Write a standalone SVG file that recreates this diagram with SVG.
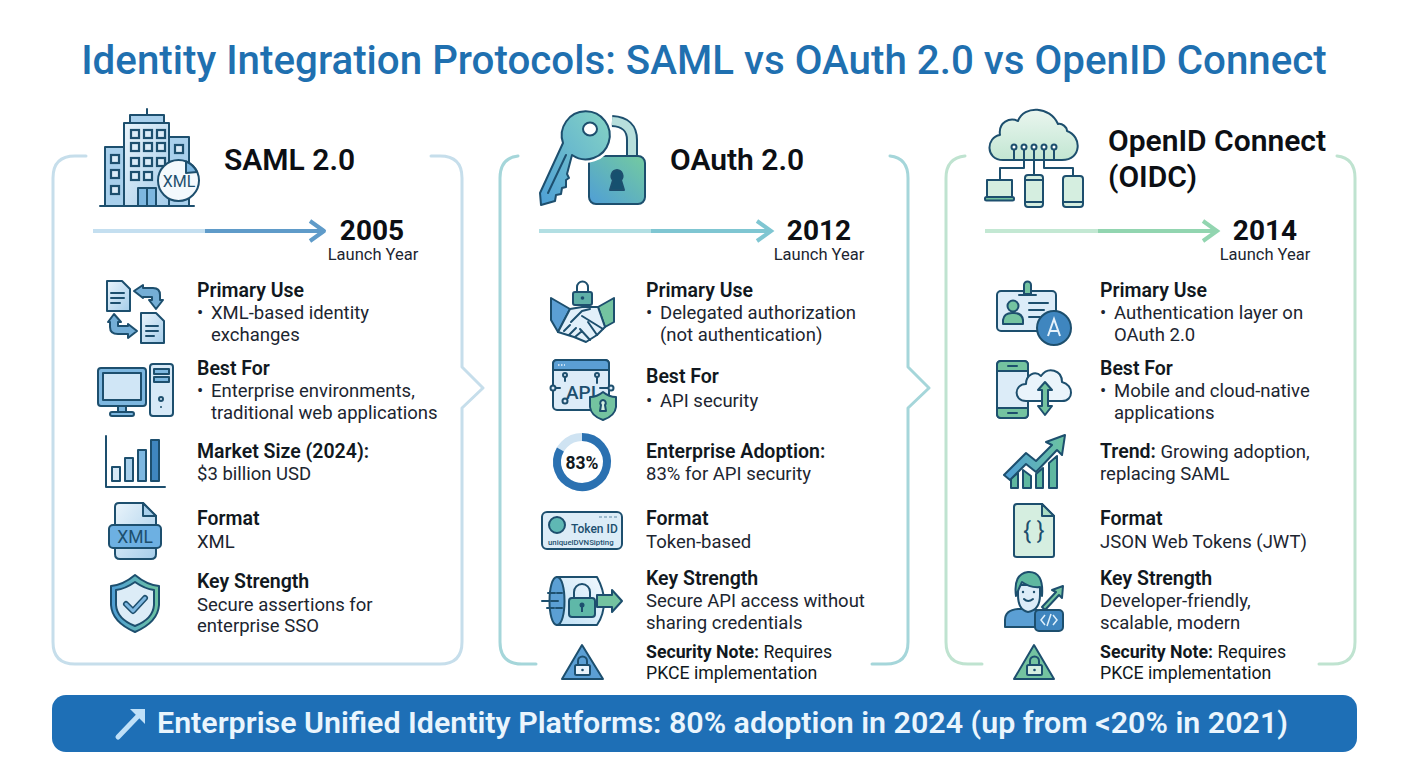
<svg xmlns="http://www.w3.org/2000/svg" width="1408" height="768" viewBox="0 0 1408 768">
<style>
text{font-family:Roboto,"Liberation Sans",sans-serif;fill:#111820}
.title{font-size:40.3px;font-weight:500;fill:#1f70b0}
.h{font-size:30px;font-weight:600;fill:#0c0f14}
.y{font-size:28px;font-weight:700;fill:#0c0f14;text-anchor:middle}
.ly{font-size:16.5px;fill:#1c2530;text-anchor:middle}
.b{font-size:19.5px;font-weight:600}
.t{font-size:18.5px;fill:#1c2530}
.ns{font-size:17.7px}
.nb{font-size:17.7px;font-weight:700}
.p1,.p2,.p3{fill:none;stroke-width:3;stroke-linecap:round;stroke-linejoin:round}
.p1{stroke:#c6deeb}.p2{stroke:#a5d6da}.p3{stroke:#bfe3d0}
.i{stroke:#1d4f6e;stroke-width:2;stroke-linejoin:round;stroke-linecap:round}
.n{fill:none}
.tl{fill:none;stroke-width:4}
</style>
<defs>
<linearGradient id="gB" x1="0" y1="0" x2="1" y2="1"><stop offset="0" stop-color="#eaf4fb"/><stop offset="1" stop-color="#a5cdea"/></linearGradient>
<linearGradient id="gT" x1="1" y1="0" x2="0" y2="1"><stop offset="0" stop-color="#86d4c4"/><stop offset="1" stop-color="#4d9fd6"/></linearGradient>
<linearGradient id="gL" x1="0" y1="1" x2="1" y2="0"><stop offset="0" stop-color="#4f9ed6"/><stop offset="1" stop-color="#74cba0"/></linearGradient>
<linearGradient id="gG" x1="0" y1="0" x2="0" y2="1"><stop offset="0" stop-color="#eaf6ef"/><stop offset="1" stop-color="#c2e6d2"/></linearGradient>
<linearGradient id="gBG" x1="0" y1="0" x2="1" y2="0"><stop offset="0" stop-color="#4f9ed6"/><stop offset="1" stop-color="#6cc3a0"/></linearGradient>
<linearGradient id="gS" x1="0" y1="1" x2="1" y2="0"><stop offset="0" stop-color="#bfe0f5"/><stop offset="1" stop-color="#f2f9fe"/></linearGradient>
<g id="winr"><rect width="8" height="8" fill="#dcecf8" stroke="#1d4f6e" stroke-width="2.200"/></g>
</defs>

<g id="page-title"><text class="title" x="704" y="74" text-anchor="middle">Identity Integration Protocols: SAML vs OAuth 2.0 vs OpenID Connect</text></g>

<g id="connectors">
<path class="p1" d="M86 156H75Q53 156 53 178V642Q53 664 75 664H440Q462 664 462 642V408L483 388L462 367V178Q462 156 440 156H431"/>
<path class="p2" d="M518 156Q500 158 500 178V642Q500 664 522 664H536M872 664H886Q908 664 908 642V408L929 388L908 367V178Q908 158 890 156"/>
<path class="p3" d="M965 156Q946 158 946 178V642Q946 664 968 664H982M1319 664H1333Q1355 664 1355 642V178Q1355 158 1337 156"/>
<path class="tl" stroke="#c4dff0" d="M93 231H206"/><path class="tl" stroke="#5f9bc9" d="M205 231H322"/><path fill="none" stroke="#5f9bc9" stroke-width="4" stroke-linejoin="round" d="M310 221L324 231L310 241"/>
<path class="tl" stroke="#b2dfe3" d="M539 231H651"/><path class="tl" stroke="#7fc6d2" d="M651 231H768"/><path fill="none" stroke="#7fc6d2" stroke-width="4" d="M757 221L771 231L757 241"/>
<path class="tl" stroke="#c3e8d3" d="M985 231H1098"/><path class="tl" stroke="#92d5b0" d="M1098 231H1214"/><path fill="none" stroke="#92d5b0" stroke-width="4" d="M1203 221L1217 231L1203 241"/>
</g>

<g id="saml">
<g id="saml-header">
<path class="i" d="M147 115V109" fill="none"/>
<rect class="i" x="130" y="115" width="34" height="8" fill="#a9d0ec"/>
<rect class="i" x="105" y="147" width="19" height="59" fill="#a9d0ec"/>
<rect class="i" x="169" y="137" width="20" height="69" fill="#a9d0ec"/>
<rect class="i" x="124" y="123" width="45" height="83" fill="url(#gB)"/>
<use href="#winr" x="131" y="130"/><use href="#winr" x="144" y="130"/><use href="#winr" x="157" y="130"/>
<use href="#winr" x="131" y="143"/><use href="#winr" x="144" y="143"/><use href="#winr" x="157" y="143"/>
<use href="#winr" x="131" y="158"/><use href="#winr" x="144" y="158"/><use href="#winr" x="157" y="158"/>
<use href="#winr" x="131" y="172"/><use href="#winr" x="144" y="172"/>
<use href="#winr" x="111" y="155"/><use href="#winr" x="111" y="170"/><use href="#winr" x="111" y="186"/><use href="#winr" x="175" y="145"/>
<path class="i" d="M138 206V188H156V206M147 188V206" fill="#7db7e0"/>
<path class="i" d="M100 206H194" fill="none"/>
<circle class="i" cx="178.500" cy="180.500" r="20.500" fill="#f3f9fd"/>
<path class="i" d="M186 161.500A20.500 20.500 0 0 1 197 172L186 173Z" fill="#7db7e0" stroke-width="1.500"/>
<text x="179" y="187" font-size="16" text-anchor="middle" style="fill:#1d4f6e">XML</text>
<text class="h" x="224" y="170">SAML 2.0</text>
</g>
<g id="saml-year"><text class="y" x="372" y="240">2005</text><text class="ly" x="373" y="260">Launch Year</text></g>
<g id="saml-use">
<path class="i" d="M107 281H122L130 289V311H107Z" fill="url(#gB)" stroke-width="1.600"/><path class="i n" stroke-width="1.600" d="M111 293H124M111 298H124M111 303H120"/>
<path class="i" d="M141 313H156L164 321V343H141Z" fill="url(#gB)" stroke-width="1.600"/><path class="i n" stroke-width="1.600" d="M146 326H158M146 331H158M146 336H154"/>
<path class="i" d="M134 291L143 285V288H153Q160 288 160 295V300H163L156 309L149 300H152V297H143V298Z" fill="#74aed6" stroke-width="1.500"/>
<path class="i" d="M137 331L128 338V334H118Q110 334 110 327V322H108L114 314L121 322H118V326H128V324Z" fill="#74aed6" stroke-width="1.500"/>
<text class="b" x="197" y="297">Primary Use</text><text class="t" x="197" y="319">•</text><text class="t" x="211" y="319">XML-based identity</text><text class="t" x="211" y="341">exchanges</text>
</g>
<g id="saml-best">
<rect class="i" x="98" y="368" width="48" height="38" rx="3" fill="#7db7e0"/><rect class="i" x="103" y="373" width="38" height="27" fill="#d0e6f6" stroke-width="1.500"/>
<path class="i" d="M118 406V412H126V406Z" fill="#7db7e0"/><rect class="i" x="110" y="412" width="24" height="4" rx="2" fill="#7db7e0"/>
<rect class="i" x="150" y="364" width="23" height="52" rx="3" fill="#d7e9f7"/><rect class="i" x="154" y="369" width="15" height="5" fill="#7db7e0" stroke-width="1.300"/><rect class="i" x="154" y="377" width="15" height="5" fill="#7db7e0" stroke-width="1.300"/><circle class="i" cx="161" cy="399" r="2" fill="none" stroke-width="1.300"/><circle cx="161" cy="407" r="1" fill="#1d4f6e"/>
<text class="b" x="197" y="375">Best For</text><text class="t" x="197" y="397">•</text><text class="t" x="211" y="397">Enterprise environments,</text><text class="t" x="211" y="419">traditional web applications</text>
</g>
<g id="saml-market">
<path class="i n" stroke-width="1.500" d="M106 436V487H165"/>
<rect class="i" x="112" y="467" width="8" height="14" fill="#d5e8f6" stroke-width="1.500"/><rect class="i" x="125" y="458" width="8" height="23" fill="#a9d0ec" stroke-width="1.500"/><rect class="i" x="138" y="450" width="8" height="31" fill="#7db7e0" stroke-width="1.500"/><rect class="i" x="151" y="440" width="8" height="41" fill="#3f86bf" stroke-width="1.500"/>
<text class="b" x="197" y="458">Market Size (2024):</text><text class="t" x="197" y="480">$3 billion USD</text>
</g>
<g id="saml-format">
<path class="i" d="M119 503H143L156 516V554Q156 559 151 559H120Q115 559 115 554V507Q115 503 119 503Z" fill="url(#gB)"/><path class="i" d="M143 503V516H156Z" fill="#a9d0ec"/>
<rect class="i" x="109" y="525" width="52" height="23" rx="4" fill="#6db0e2"/><text x="135" y="543" font-size="17.500" text-anchor="middle" style="fill:#1d4f6e">XML</text>
<text class="b" x="197" y="525">Format</text><text class="t" x="197" y="548">XML</text>
</g>
<g id="saml-strength">
<path class="i" d="M135 575Q147 585 159 586V605Q158 622 135 632Q112 622 111 605V586Q123 585 135 575Z" fill="url(#gBG)"/>
<path class="i" d="M135 582Q145 589 154 590V605Q153 619 135 626Q117 619 116 605V590Q125 589 135 582Z" fill="#dcecf7" stroke-width="1.500"/>
<path d="M126 604L133 611L145 598" fill="none" stroke="#1d4f6e" stroke-width="6" stroke-linecap="round" stroke-linejoin="round"/><path d="M126 604L133 611L145 598" fill="none" stroke="#7db7e0" stroke-width="3" stroke-linecap="round" stroke-linejoin="round"/>
<text class="b" x="197" y="588">Key Strength</text><text class="t" x="197" y="611">Secure assertions for</text><text class="t" x="197" y="632">enterprise SSO</text>
</g>
</g>

<g id="oauth">
<g id="oauth-header">
<path d="M632 157V140Q632 122 612 121" fill="none" stroke="#1d4f6e" stroke-width="12"/>
<path d="M632 157V140Q632 122 612 121" fill="none" stroke="#b7dfdc" stroke-width="8"/>
<rect class="i" x="589" y="156" width="56" height="48" rx="7" fill="url(#gL)"/>
<path class="i" d="M617 170A6 6 0 0 1 621 180L624 190H610L613 180A6 6 0 0 1 617 170Z" fill="#16506f"/>
<path d="M563 143L540 193L541 205L555 201L556 195L561 194L562 188L566 187L566 180L569 178L567 174L572 155A24 24 0 1 0 563 143Z" fill="none" stroke="#fff" stroke-width="7"/>
<path class="i" d="M563 143L540 193L541 205L555 201L556 195L561 194L562 188L566 187L566 180L569 178L567 174L572 155A24 24 0 1 0 563 143Z" fill="url(#gT)"/>
<path class="i n" stroke-width="1.500" d="M548 193L566 155"/>
<ellipse class="i" cx="590" cy="129" rx="7" ry="6.500" fill="#fff"/>
<text class="h" x="670" y="170">OAuth 2.0</text>
</g>
<g id="oauth-year"><text class="y" x="819" y="240">2012</text><text class="ly" x="819" y="260">Launch Year</text></g>
<g id="oauth-use">
<rect class="i" x="573" y="292" width="19" height="13" rx="2" fill="#5fb0a8" stroke-width="1.600"/><path class="i n" stroke-width="1.600" d="M577 292V287A5.500 5.500 0 0 1 588 287V292"/><circle cx="582.500" cy="298" r="1.800" fill="#1d4f6e"/>
<path class="i" d="M551 298L570 309L558 332L551 320Z" fill="#5b9fd4" stroke-width="1.600"/>
<path class="i" d="M614 298L598 307L605 327L614 322Z" fill="#74c3a0" stroke-width="1.600"/>
<path class="i" d="M570 309L582 307L598 307L605 327L597 335L586 342L574 337L558 332Z" fill="#e2f0fa" stroke-width="1.600"/>
<path class="i n" stroke-width="1.600" d="M571 322L582 311L590 309M582 316L603 329M588 322L597 335M580 329L590 340M564 331L570 325M569 335L576 328M575 337L582 331"/>
<text class="b" x="646" y="297">Primary Use</text><text class="t" x="646" y="319">•</text><text class="t" x="660" y="319">Delegated authorization</text><text class="t" x="660" y="341">(not authentication)</text>
</g>
<g id="oauth-best">
<rect class="i" x="553" y="360" width="56" height="50" rx="4" fill="#dcecf8"/><path class="i" d="M553 370V364Q553 360 557 360H605Q609 360 609 364V370Z" fill="#5b9fd4"/>
<path d="M558 365H565" stroke="#eaf4fb" stroke-width="1.500" stroke-dasharray="1.500 1.500" fill="none"/>
<path class="i n" stroke-width="1.500" d="M565 376V381M597 376V383M552 388H560M600 388H612"/><circle class="i" cx="565" cy="375" r="2" fill="#dcecf8" stroke-width="1.500"/><circle class="i" cx="597" cy="375" r="2" fill="#dcecf8" stroke-width="1.500"/><circle class="i" cx="553" cy="388" r="2.500" fill="#dcecf8" stroke-width="1.500"/><circle class="i" cx="611" cy="388" r="2.500" fill="#dcecf8" stroke-width="1.500"/><circle class="i" cx="565" cy="401" r="2.500" fill="#dcecf8" stroke-width="1.500"/>
<text x="581" y="399" font-size="19" font-weight="500" text-anchor="middle" style="fill:#1d4f6e">API</text>
<path class="i" d="M603 392Q609 397 616 397V407Q615 416 603 420Q591 416 590 407V397Q597 397 603 392Z" fill="#74c3a0" stroke-width="1.600"/><path class="i" d="M603 400A3 3 0 0 1 605 405L606 411H600L601 405A3 3 0 0 1 603 400Z" fill="#d5eee0" stroke-width="1.300"/>
<text class="b" x="646" y="383">Best For</text><text class="t" x="646" y="407">•</text><text class="t" x="660" y="407">API security</text>
</g>
<g id="oauth-adoption">
<circle cx="582" cy="462" r="25" fill="none" stroke="#cfe3f2" stroke-width="8"/>
<path d="M582 437A25 25 0 1 1 560.400 449.400" fill="none" stroke="#2b71b1" stroke-width="8"/>
<text x="582" y="469" font-size="17.500" font-weight="700" text-anchor="middle">83%</text>
<text class="b" x="646" y="458">Enterprise Adoption:</text><text class="t" x="646" y="480">83% for API security</text>
</g>
<g id="oauth-format">
<rect class="i" x="542" y="512" width="80" height="37" rx="5" fill="#dcecf7"/>
<circle class="i" cx="557" cy="525" r="8" fill="#5fb8b4"/>
<text x="571" y="533" font-size="12" font-weight="500" style="fill:#1d4f6e">Token ID</text>
<text x="548" y="545" font-size="7.800" font-weight="500" style="fill:#1d4f6e">uniquelDVNSipting</text>
<path d="M599 517H617" stroke="#5b87a6" stroke-width="1.200" stroke-dasharray="3 2"/>
<text class="b" x="646" y="525">Format</text><text class="t" x="646" y="548">Token-based</text>
</g>
<g id="oauth-strength">
<path class="i" d="M557 577H597Q604 590 604 601Q604 615 597 625H557" fill="url(#gS)"/>
<path class="i" d="M557 577C547 577 547 625 557 625C567 625 567 577 557 577Z" fill="#5b9fd4"/>
<path class="i" d="M597 595H612V590L622 601L612 612V607H597Z" fill="#74c3a0" stroke-width="1.500"/>
<path class="i n" stroke-width="1.300" stroke-dasharray="7 2" d="M548 593H562M542 601H560M547 608H562"/>
<path class="i n" stroke-width="2.500" d="M574 598V592A8 8 0 0 1 590 592V598"/>
<rect class="i" x="569" y="598" width="26" height="19" rx="3" fill="#5fb8a8"/><circle cx="582" cy="605" r="2.500" fill="#1d4f6e"/><path d="M582 605V612" stroke="#1d4f6e" stroke-width="2"/>
<text class="b" x="646" y="585">Key Strength</text><text class="t" x="646" y="607">Secure API access without</text><text class="t" x="646" y="629">sharing credentials</text>
</g>
<g id="oauth-note">
<path class="i" d="M582 645L603 679H562Z" fill="#5b9fd4"/>
<rect class="i" x="575" y="665" width="15" height="10" rx="1.500" fill="#eaf4fb" stroke-width="1.600"/><path class="i n" stroke-width="1.600" d="M578 665V661A4.500 4.500 0 0 1 587 661V665"/><circle cx="582.500" cy="670" r="1.300" fill="#1d4f6e"/>
<text class="nb" x="646" y="658">Security Note:<tspan class="ns" style="font-weight:400"> Requires</tspan></text><text class="ns" x="646" y="679">PKCE implementation</text>
</g>
</g>

<g id="oidc">
<g id="oidc-header">
<path class="i" d="M1012 160H1003C985 160 986 137 1000 135C998 122 1010 117 1018 121C1024 105 1050 106 1058 124C1062 123 1067 127 1067 131C1082 136 1082 160 1062 160Z" fill="url(#gG)"/>
<path class="i n" stroke-width="1.800" d="M1014 150V160M1024 150V168H1000V180M1034 150V175M1044 150V168H1073V176M1054 150V160"/>
<circle class="i" cx="1014" cy="147" r="2.500" fill="#fff" stroke-width="1.500"/><circle class="i" cx="1024" cy="147" r="2.500" fill="#fff" stroke-width="1.500"/><circle class="i" cx="1034" cy="147" r="2.500" fill="#fff" stroke-width="1.500"/><circle class="i" cx="1044" cy="147" r="2.500" fill="#fff" stroke-width="1.500"/><circle class="i" cx="1054" cy="147" r="2.500" fill="#fff" stroke-width="1.500"/>
<rect class="i" x="987" y="180" width="25" height="18" fill="#d5eee0"/><rect class="i" x="985" y="197" width="29" height="3.500" rx="1.500" fill="#74c3a0"/>
<rect class="i" x="1025" y="175" width="18" height="32" rx="3" fill="#d5eee0"/><path class="i n" d="M1025 180H1043M1025 202H1043" stroke-width="1.500"/>
<rect class="i" x="1063" y="176" width="20" height="31" rx="3" fill="#d5eee0"/><path class="i n" d="M1063 202H1083" stroke-width="1.500"/>
<text class="h" x="1108" y="151">OpenID Connect</text><text class="h" x="1108" y="187">(OIDC)</text>
</g>
<g id="oidc-year"><text class="y" x="1265" y="240">2014</text><text class="ly" x="1265" y="260">Launch Year</text></g>
<g id="oidc-use">
<rect class="i" x="997" y="291" width="59" height="40" rx="4" fill="#dcecf8"/>
<path class="i" d="M1024 294V285A3.500 3.500 0 0 1 1031 285V294ZM1019 295H1036" fill="#74c3a0"/>
<circle class="i" cx="1013" cy="306" r="5.500" fill="#74c3a0" stroke-width="1.600"/><path class="i" d="M1003 324V320Q1004 313 1012 313H1014Q1022 313 1023 320V324Z" fill="#74c3a0" stroke-width="1.600"/>
<path class="i n" stroke-width="1.600" d="M1029 303H1048M1029 310H1044M1029 317H1040"/>
<circle class="i" cx="1054" cy="328" r="17" fill="#3f86bf"/><path d="M1048 336L1054 319L1060 336M1050.500 331H1057.500" fill="none" stroke="#e5f2fb" stroke-width="2"/>
<text class="b" x="1100" y="297">Primary Use</text><text class="t" x="1100" y="319">•</text><text class="t" x="1114" y="319">Authentication layer on</text><text class="t" x="1114" y="341">OAuth 2.0</text>
</g>
<g id="oidc-best">
<rect class="i" x="997" y="361" width="31" height="57" rx="4" fill="#dcecf8"/>
<path class="i" d="M997 371V365Q997 361 1001 361H1024Q1028 361 1028 365V371Z" fill="#74c3a0" stroke-width="1.600"/><path class="i" d="M997 408V414Q997 418 1001 418H1024Q1028 418 1028 414V408Z" fill="#74c3a0" stroke-width="1.600"/><path class="i n" stroke-width="1.500" d="M1008 366H1017M1008 413H1017"/>
<path class="i" d="M1028 401H1026C1013 401 1014 384 1026 384C1026 375 1035 370 1041 376C1048 366 1062 370 1062 382C1074 385 1074 401 1062 401Z" fill="#eaf4fb"/>
<path class="i" d="M1045 382L1052 390H1048V406H1052L1045 415L1038 406H1042V390H1038Z" fill="#74c3a0" stroke-width="1.500"/>
<text class="b" x="1100" y="375">Best For</text><text class="t" x="1100" y="397">•</text><text class="t" x="1114" y="397">Mobile and cloud-native</text><text class="t" x="1114" y="419">applications</text>
</g>
<g id="oidc-trend">
<path class="i" d="M1011 488V478L1018 473V488ZM1023 488V470L1031 476V488ZM1036 488V474L1043 468V488ZM1049 488V463L1057 456V488Z" fill="#5fb8a0" stroke-width="1.600"/>
<path class="i" d="M1004 475L1026 453L1036 461L1052 445L1046 442L1065 435L1062 455L1057 450L1036 472L1026 464L1010 480Z" fill="url(#gBG)" stroke-width="1.600"/>
<text class="b" x="1100" y="458">Trend:<tspan class="t" style="font-weight:400"> Growing adoption,</tspan></text><text class="t" x="1100" y="480">replacing SAML</text>
</g>
<g id="oidc-format">
<path class="i" d="M1017 504H1042L1054 516V555Q1054 557 1052 557H1017Q1014 557 1014 555V507Q1014 504 1017 504Z" fill="#d5eee0"/><path class="i" d="M1042 504V516H1054Z" fill="#a9dcc2" stroke-width="1.600"/>
<text x="1034" y="539" font-size="23" text-anchor="middle" style="fill:#1d4f6e">{ }</text>
<text class="b" x="1100" y="525">Format</text><text class="t" x="1100" y="548">JSON Web Tokens (JWT)</text>
</g>
<g id="oidc-strength">
<path class="i" d="M1005 627V620Q1005 610 1018 609H1033Q1038 610 1040 612V627Z" fill="#5b9fd4"/>
<path class="i" d="M1018 595Q1018 610 1028 612Q1040 610 1040 595V585H1018Z" fill="#dcecf8"/>
<path class="i" d="M1016 596Q1013 574 1028 572Q1044 571 1042 596L1040 587Q1030 588 1022 582Q1019 588 1016 596Z" fill="#5fb8a0"/>
<path class="i n" stroke-width="1.500" d="M1024 599Q1028 603 1033 599"/><circle cx="1023" cy="592" r="1.200" fill="#1d4f6e"/><circle cx="1034" cy="592" r="1.200" fill="#1d4f6e"/>
<path class="i" d="M1042 607L1056 592L1052 590L1063 586L1062 598L1059 595L1045 610Z" fill="#74c3a0" stroke-width="1.500"/>
<rect class="i" x="1035" y="610" width="28" height="21" rx="4" fill="#3f86bf"/><path d="M1045 615L1041 620L1045 625M1053 615L1057 620L1053 625M1051 614L1047 626" fill="none" stroke="#dff0fb" stroke-width="1.500"/>
<text class="b" x="1100" y="585">Key Strength</text><text class="t" x="1100" y="607">Developer-friendly,</text><text class="t" x="1100" y="629">scalable, modern</text>
</g>
<g id="oidc-note">
<path class="i" d="M1034 645L1054 679H1014Z" fill="#74c3a0"/>
<rect class="i" x="1027" y="665" width="15" height="10" rx="1.500" fill="#d5eee0" stroke-width="1.600"/><path class="i n" stroke-width="1.600" d="M1030 665V661A4.500 4.500 0 0 1 1039 661V665"/><circle cx="1034.500" cy="670" r="1.300" fill="#1d4f6e"/>
<text class="nb" x="1100" y="658">Security Note:<tspan class="ns" style="font-weight:400"> Requires</tspan></text><text class="ns" x="1100" y="679">PKCE implementation</text>
</g>
</g>

<g id="banner">
<rect x="52" y="695" width="1305" height="57" rx="14" fill="#1e6fb6"/>
<path d="M118 737L141 713" stroke="#bfe0f8" stroke-width="5" stroke-linecap="round"/><path d="M130 709H145V724Z" fill="#bfe0f8"/>
<text x="157" y="733" font-size="30.400" font-weight="600" style="fill:#eaf5fd">Enterprise Unified Identity Platforms: 80% adoption in 2024 (up from &lt;20% in 2021)</text>
</g>
</svg>
